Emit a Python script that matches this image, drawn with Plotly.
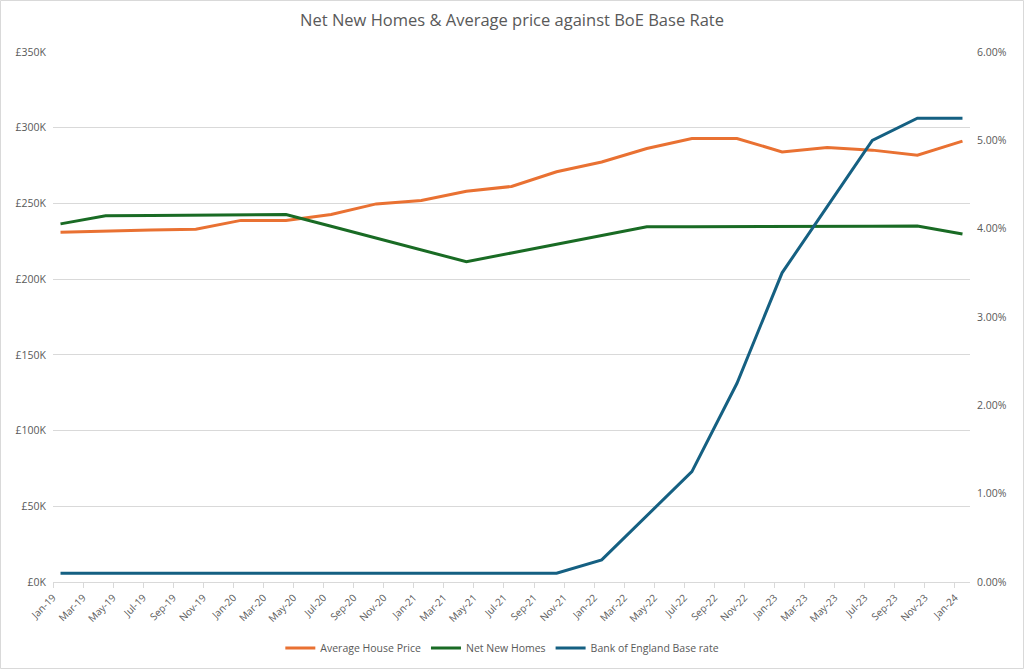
import plotly.graph_objects as go
from datetime import datetime

# ---- data ----
months = ["Jan-19", "Apr-19", "Jul-19", "Oct-19", "Jan-20", "Apr-20", "Jul-20",
          "Oct-20", "Jan-21", "Apr-21", "Jul-21", "Oct-21", "Jan-22", "Apr-22",
          "Jul-22", "Oct-22", "Jan-23", "Apr-23", "Jul-23", "Oct-23", "Jan-24"]
house_price = [230900, 231900, 232500, 233000, 238800, 238800, 242700,
               249700, 252000, 258100, 261200, 270900, 277400, 286300,
               292900, 292900, 284000, 287000, 285200, 281900, 291100]
net_new_homes = [236500, 241800, 242000, 242200, 242500, 242700, 234900,
                 227100, 219300, 211500, 217300, 223100, 228800, 234600,
                 234600, 234600, 234600, 234600, 235000, 235100, 229800]
boe_rate_pct = [0.10, 0.10, 0.10, 0.10, 0.10, 0.10, 0.10,
                0.10, 0.10, 0.10, 0.10, 0.10, 0.25, 0.75,
                1.25, 2.25, 3.50, 4.25, 5.00, 5.25, 5.25]

tick_labels = ["Jan-19", "Mar-19", "May-19", "Jul-19", "Sep-19", "Nov-19",
               "Jan-20", "Mar-20", "May-20", "Jul-20", "Sep-20", "Nov-20",
               "Jan-21", "Mar-21", "May-21", "Jul-21", "Sep-21", "Nov-21",
               "Jan-22", "Mar-22", "May-22", "Jul-22", "Sep-22", "Nov-22",
               "Jan-23", "Mar-23", "May-23", "Jul-23", "Sep-23", "Nov-23",
               "Jan-24"]
left_ticks = [0, 50000, 100000, 150000, 200000, 250000, 300000, 350000]
left_labels = ["£0K", "£50K", "£100K", "£150K", "£200K", "£250K", "£300K", "£350K"]

# ---- month-slot axis (Excel date axis, base unit months) ----
def month_index(label):
    d = datetime.strptime(label, "%b-%y")
    return (d.year - 2019) * 12 + (d.month - 1)

x_data = [month_index(m) + 0.5 for m in months]
x_ticks = [month_index(t) for t in tick_labels]
boe_rate = [v / 100 for v in boe_rate_pct]

ORANGE = "#E97132"
GREEN = "#196B24"
BLUE = "#156082"
TXT = "#595959"
GRID = "#d9d9d9"
FONT = "Open Sans"

fig = go.Figure()
fig.add_trace(go.Scatter(x=x_data, y=house_price, name="Average House Price",
                         mode="lines", line=dict(color=ORANGE, width=3)))
fig.add_trace(go.Scatter(x=x_data, y=net_new_homes, name="Net New Homes",
                         mode="lines", line=dict(color=GREEN, width=3)))
fig.add_trace(go.Scatter(x=x_data, y=boe_rate, name="Bank of England Base rate",
                         mode="lines", line=dict(color=BLUE, width=3), yaxis="y2"))

L, R, T, B = 53, 54, 52, 87
W, H = 1024, 669
pw, ph = W - L - R, H - T - B

fig.update_layout(
    width=W, height=H,
    margin=dict(l=L, r=R, t=T, b=B, autoexpand=False),
    paper_bgcolor="white", plot_bgcolor="white",
    font=dict(family=FONT, color=TXT, size=10),
    title=dict(text="Net New Homes & Average price against BoE Base Rate",
               x=0.5, xanchor="center", y=1 - 20 / H, yanchor="middle",
               font=dict(family=FONT, size=16.5, color=TXT)),
    xaxis=dict(range=[0, 61], tickmode="array", tickvals=x_ticks, ticktext=tick_labels,
               tickangle=-45, showgrid=False, showline=True, linecolor=GRID, linewidth=1,
               ticks="outside", ticklen=5, tickcolor=GRID, zeroline=False, automargin=False,
               tickfont=dict(size=10, color=TXT)),
    yaxis=dict(range=[0, 350000], tickmode="array", tickvals=left_ticks, ticktext=left_labels,
               showgrid=True, gridcolor=GRID, gridwidth=1, zeroline=False, showline=False,
               ticks="", automargin=False, ticklabelstandoff=6,
               tickfont=dict(size=10.5, color=TXT)),
    yaxis2=dict(range=[0, 0.06], dtick=0.01, tickformat=".2%", overlaying="y", side="right",
                showgrid=False, zeroline=False, showline=False, ticks="", automargin=False,
                color=TXT, ticklabelstandoff=6,
                tickfont=dict(size=10.5, color=TXT)),
    legend=dict(orientation="h", x=0.49, xanchor="center", y=-(648 - 582) / ph,
                yanchor="middle", font=dict(size=10.5, color=TXT), bgcolor="rgba(0,0,0,0)",
                itemwidth=30, tracegroupgap=0),
    showlegend=True,
)

# outer chart border
fig.add_shape(type="rect", xref="paper", yref="paper",
              x0=(0.5 - L) / pw, x1=(W - 0.5 - L) / pw,
              y0=-(H - 0.5 - T - ph) / ph, y1=1 + (T - 0.5) / ph,
              line=dict(color=GRID, width=1), fillcolor="rgba(0,0,0,0)", layer="below")

fig.write_html("out.html", config={"displayModeBar": False},
               post_script="document.body.style.margin='0';document.body.style.overflow='hidden';")
